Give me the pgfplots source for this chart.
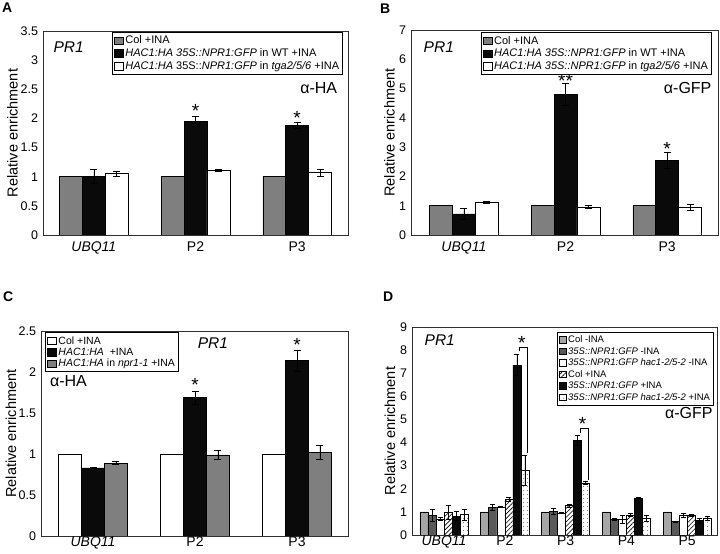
\documentclass[border=0pt]{standalone}
\usepackage{pgfplots}
\pgfplotsset{compat=1.18}
\usepackage{fontspec}
\setmainfont{Liberation Sans}
\usetikzlibrary{patterns.meta}
\definecolor{cgray}{HTML}{7F7F7F}
\definecolor{cblack}{HTML}{0A0A0A}
\definecolor{clight}{HTML}{A6A6A6}
\definecolor{cdark}{HTML}{595959}
\definecolor{frame}{HTML}{303030}

\tikzset{sigstar/.style={font=\fontsize{19}{19}\selectfont}}
\pgfplotsset{
  panel/.style={
    scale only axis,
    ybar,
    enlargelimits=false,
    axis line style={draw=frame, line width=0.9pt},
    tick style={draw=none},
    major tick length=0pt,
    /pgf/number format/assume math mode=true,
    yticklabel style={font=\fontsize{12.5}{13}\selectfont, xshift=-1.5pt},
    xticklabel style={font=\fontsize{14}{15}\selectfont},
    ylabel={Relative enrichment},
    ylabel style={font=\fontsize{14.5}{15}\selectfont, anchor=center},
    xtick={0,1,2},
    xticklabels={\textit{UBQ11},P2,P3},
    legend cell align=left,
    legend style={font=\fontsize{11}{12}\selectfont, draw=black, line width=1pt, inner sep=1.5pt, row sep=-0.5pt, /tikz/every even column/.append style={column sep=2pt}},
    legend image code/.code={\draw[##1, line width=0.5pt] (0pt,-3.5pt) rectangle (9pt,4pt);},
  },
  eb/.style={error bars/y dir=both, error bars/y explicit, error bars/error bar style={line width=0.6pt, black}, error bars/error mark options={rotate=90, line width=0.6pt, black, mark size=#1}},
  bar/.style={fill=#1, draw=black, line width=0.6pt},
  hatchbar/.style={fill=white, draw=black, line width=0.6pt, postaction={pattern={Lines[angle=45,distance=3.2pt,line width=0.6pt]}}},
  dotbar/.style={fill=white, draw=black, line width=0.6pt, postaction={pattern={Dots[distance=4pt,radius=0.45pt]}}},
}

\begin{document}
\begin{tikzpicture}
\useasboundingbox (0,0) rectangle (720pt,554pt);

% panel letters
\node[anchor=north west, inner sep=0, font=\bfseries\fontsize{14}{14}\selectfont] at (2pt,551pt) {A};
\node[anchor=north west, inner sep=0, font=\bfseries\fontsize{14}{14}\selectfont] at (380pt,550pt) {B};
\node[anchor=north west, inner sep=0, font=\bfseries\fontsize{14}{14}\selectfont] at (3pt,262pt) {C};
\node[anchor=north west, inner sep=0, font=\bfseries\fontsize{14}{14}\selectfont] at (383pt,262pt) {D};

% ---------------- A ----------------
\begin{axis}[panel, at={(43pt,319pt)}, anchor=south west, width=305pt, height=204pt,
  xmin=-0.5, xmax=2.5, ymin=0, ymax=3.5, ytick={0,0.5,1,1.5,2,2.5,3,3.5},
  xticklabel style={yshift=-3pt},
  ylabel style={at={(axis description cs:-0.1,0.5)}},
  legend style={at={(0.984,0.995)}, anchor=north east},
  bar width=0.225]
\addplot[bar=cgray, bar shift=-0.225] coordinates {(0,1) (1,1) (2,1)};
\addplot[bar=cblack, bar shift=0, eb=3.5pt] coordinates {(0,1.01) +- (0,0.12) (1,1.95) +- (0,0.08) (2,1.88) +- (0,0.05)};
\addplot[bar=white, bar shift=0.225, eb=3.5pt] coordinates {(0,1.05) +- (0,0.05) (1,1.11) +- (0,0.02) (2,1.07) +- (0,0.06)};
\legend{Col +INA, \textit{HAC1:HA 35S::NPR1:GFP} in WT +INA, \textit{HAC1:HA} 35S::\textit{NPR1:GFP} in \textit{tga2/5/6} +INA}
\node[anchor=west, font=\itshape\fontsize{15.5}{16}\selectfont] at (rel axis cs:0.023,0.92) {PR1};
\node[anchor=east, font=\fontsize{16}{16}\selectfont] at (rel axis cs:0.976,0.72) {α-HA};
\node[sigstar] at (axis cs:1,2.12) {*};
\node[sigstar] at (axis cs:2,2.01) {*};
\end{axis}

% ---------------- B ----------------
\begin{axis}[panel, at={(411pt,319pt)}, anchor=south west, width=307pt, height=205pt,
  xmin=-0.52, xmax=2.5, ymin=0, ymax=7, ytick={0,1,...,7},
  xticklabel style={yshift=-3pt},
  ylabel style={at={(axis description cs:-0.07,0.5)}},
  legend style={at={(0.98,0.99)}, anchor=north east},
  bar width=0.225]
\addplot[bar=cgray, bar shift=-0.225] coordinates {(0,1) (1,1) (2,1)};
\addplot[bar=cblack, bar shift=0, eb=3.5pt] coordinates {(0,0.72) +- (0,0.2) (1,4.8) +- (0,0.38) (2,2.54) +- (0,0.27)};
\addplot[bar=white, bar shift=0.225, eb=3.5pt] coordinates {(0,1.12) +- (0,0.04) (1,0.95) +- (0,0.05) (2,0.94) +- (0,0.1)};
\legend{Col +INA, \textit{HAC1:HA 35S::NPR1:GFP} in WT +INA, \textit{HAC1:HA 35S::NPR1:GFP} in \textit{tga2/5/6} +INA}
\node[anchor=west, font=\itshape\fontsize{15.5}{16}\selectfont] at (rel axis cs:0.03,0.917) {PR1};
\node[anchor=east, font=\fontsize{16}{16}\selectfont] at (rel axis cs:0.99,0.715) {α-GFP};
\node[sigstar] at (axis cs:1,5.25) {**};
\node[sigstar] at (axis cs:2,2.94) {*};
\end{axis}

% ---------------- C ----------------
\begin{axis}[panel, at={(41pt,18pt)}, anchor=south west, width=307pt, height=205pt,
  xmin=-0.51, xmax=2.5, ymin=0, ymax=2.5, ytick={0,0.5,1,1.5,2,2.5},
  xticklabel style={inner sep=1pt},
  ylabel style={at={(axis description cs:-0.098,0.5)}},
  legend style={at={(0.013,0.993)}, anchor=north west, font=\fontsize{10.5}{11}\selectfont, row sep=-1.5pt},
  bar width=0.225]
\addplot[bar=white, bar shift=-0.225] coordinates {(0,1) (1,1) (2,1)};
\addplot[bar=cblack, bar shift=0, eb=3.5pt] coordinates {(0,0.83) +- (0,0.01) (1,1.69) +- (0,0.08) (2,2.14) +- (0,0.13)};
\addplot[bar=cgray, bar shift=0.225, eb=3.5pt] coordinates {(0,0.89) +- (0,0.02) (1,0.99) +- (0,0.05) (2,1.02) +- (0,0.08)};
\legend{Col +INA, \textit{HAC1:HA}\ \ +INA, \textit{HAC1:HA} in \textit{npr1-1} +INA}
\node[font=\itshape\fontsize{15.5}{16}\selectfont] at (rel axis cs:0.56,0.94) {PR1};
\node[anchor=west, font=\fontsize{16}{16}\selectfont] at (rel axis cs:0.018,0.755) {α-HA};
\node[sigstar] at (axis cs:1,1.84) {*};
\node[sigstar] at (axis cs:2,2.33) {*};
\end{axis}

% ---------------- D ----------------
\begin{axis}[panel, at={(412pt,19pt)}, anchor=south west, width=305pt, height=208pt,
  xmin=-0.527, xmax=4.49, ymin=0, ymax=9, ytick={0,1,...,9},
  xtick={0,1,2,3,4}, xticklabels={\textit{UBQ11},P2,P3,P4,P5},
  xticklabel style={inner sep=1pt},
  ylabel style={at={(axis description cs:-0.072,0.5)}},
  legend style={at={(0.99,0.976)}, anchor=north east, font=\fontsize{9.5}{10}\selectfont, row sep=-0.8pt},
  legend image code/.code={\draw[#1, line width=0.5pt] (0pt,-3pt) rectangle (7pt,3.5pt);},
  bar width=0.132]
\addplot[bar=clight, bar shift=-0.33] coordinates {(0,1) (1,1) (2,1) (3,1) (4,1)};
\addplot[bar=cdark, bar shift=-0.198, eb=2.5pt] coordinates {(0,0.86) +- (0,0.25) (1,1.19) +- (0,0.12) (2,1.03) +- (0,0.12) (3,0.68) +- (0,0.06) (4,0.58) +- (0,0.02)};
\addplot[bar=white, bar shift=-0.066, eb=2.5pt] coordinates {(0,0.7) +- (0,0.06) (1,1.22) +- (0,0.02) (2,0.96) +- (0,0.02) (3,0.68) +- (0,0.17) (4,0.86) +- (0,0.1)};
\addplot[hatchbar, bar shift=0.066, eb=2.5pt] coordinates {(0,0.99) +- (0,0.3) (1,1.55) +- (0,0.1) (2,1.28) +- (0,0.06) (3,0.86) +- (0,0.06) (4,0.85) +- (0,0.03)};
\addplot[bar=cblack, bar shift=0.198, eb=2.5pt] coordinates {(0,0.82) +- (0,0.2) (1,7.35) +- (0,0.45) (2,4.09) +- (0,0.22) (3,1.6) +- (0,0.03) (4,0.62) +- (0,0.1)};
\addplot[dotbar, bar shift=0.33, eb=2.5pt] coordinates {(0,0.88) +- (0,0.25) (1,2.8) +- (0,0.67) (2,2.25) +- (0,0.07) (3,0.72) +- (0,0.13) (4,0.72) +- (0,0.1)};
\legend{Col -INA, \textit{35S::NPR1:GFP} -INA, \textit{35S::NPR1:GFP hac1-2/5-2} -INA, Col +INA, \textit{35S::NPR1:GFP} +INA, \textit{35S::NPR1:GFP hac1-2/5-2} +INA}
\draw[line width=0.6pt] (axis cs:1.235,7.95) -- (axis cs:1.235,8.12) -- (axis cs:1.37,8.12) -- (axis cs:1.37,3.55);
\draw[line width=0.6pt] (axis cs:2.235,4.4) -- (axis cs:2.235,4.6) -- (axis cs:2.37,4.6) -- (axis cs:2.37,2.4);
\node[sigstar] at (axis cs:1.28,8.3) {*};
\node[sigstar] at (axis cs:2.28,4.8) {*};
\node[anchor=west, font=\itshape\fontsize{15.5}{16}\selectfont] at (rel axis cs:0.03,0.935) {PR1};
\node[anchor=east, font=\fontsize{16}{16}\selectfont] at (rel axis cs:0.997,0.585) {α-GFP};
\end{axis}
\end{tikzpicture}
\end{document}
